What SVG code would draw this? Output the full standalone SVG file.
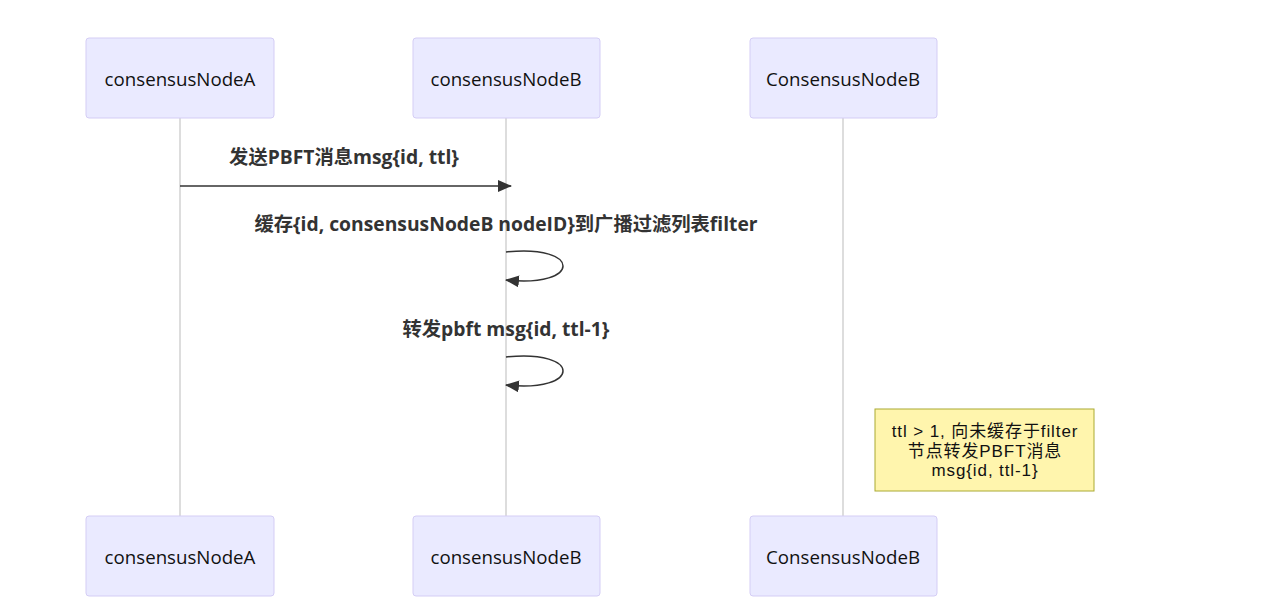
<svg xmlns="http://www.w3.org/2000/svg" width="1275" height="612" viewBox="0 0 1275 612">
<style>
.actor{fill:#eaeaff;stroke:#d4cdf5;stroke-width:1}
.atext{font-family:"Open Sans","Liberation Sans","Noto Sans CJK SC",sans-serif;font-size:18.7px;fill:#111;text-anchor:middle;dominant-baseline:central}
.life{stroke:#bbb;stroke-width:1}
.msg{font-family:"Open Sans","Liberation Sans","Noto Sans CJK SC",sans-serif;font-size:19.3px;font-weight:bold;fill:#333;text-anchor:middle}
.line{stroke:#333;stroke-width:1.5;fill:none}
.note{fill:#fff5ad;stroke:#aaaa33;stroke-width:1}
.ntext{font-family:"Liberation Sans","Noto Sans CJK SC",sans-serif;font-size:17px;letter-spacing:0.9px;fill:#111;text-anchor:middle}
</style>
<defs>
<marker id="arrow" viewBox="0 0 14 12" refX="13" refY="6" markerWidth="14" markerHeight="12" markerUnits="userSpaceOnUse" orient="auto">
<path d="M0,0 L14,6 L0,12 z" fill="#333"/>
</marker>
</defs>
<rect width="1275" height="612" fill="#fff"/>
<g id="lifelines">
<line class="life" x1="180" y1="118" x2="180" y2="516"/>
<line class="life" x1="506" y1="118" x2="506" y2="516"/>
<line class="life" x1="843" y1="118" x2="843" y2="516"/>
</g>
<g id="actorA-top"><rect class="actor" x="86" y="38" width="188" height="80" rx="3"/><text class="atext" x="180" y="78">consensusNodeA</text></g>
<g id="actorB-top"><rect class="actor" x="413" y="38" width="187" height="80" rx="3"/><text class="atext" x="506" y="78">consensusNodeB</text></g>
<g id="actorC-top"><rect class="actor" x="750" y="38" width="187" height="80" rx="3"/><text class="atext" x="843" y="78">ConsensusNodeB</text></g>
<g id="actorA-bottom"><rect class="actor" x="86" y="516" width="188" height="80" rx="3"/><text class="atext" x="180" y="556">consensusNodeA</text></g>
<g id="actorB-bottom"><rect class="actor" x="413" y="516" width="187" height="80" rx="3"/><text class="atext" x="506" y="556">consensusNodeB</text></g>
<g id="actorC-bottom"><rect class="actor" x="750" y="516" width="187" height="80" rx="3"/><text class="atext" x="843" y="556">ConsensusNodeB</text></g>
<g id="connectors">
<text class="msg" x="344" y="164">发送PBFT消息msg{id, ttl}</text>
<line class="line" x1="180" y1="186" x2="511" y2="186" marker-end="url(#arrow)"/>
<text class="msg" x="506" y="231">缓存{id, consensusNodeB nodeID}到广播过滤列表filter</text>
<path class="line" d="M506,252 C582,244 582,288 506,280" marker-end="url(#arrow)"/>
<text class="msg" x="506" y="336">转发pbft msg{id, ttl-1}</text>
<path class="line" d="M506,357 C582,349 582,393 506,385" marker-end="url(#arrow)"/>
</g>
<g id="note">
<rect class="note" x="875" y="409" width="219" height="82"/>
<text class="ntext" x="985" y="437">ttl &gt; 1, 向未缓存于filter</text>
<text class="ntext" x="985" y="456.5">节点转发PBFT消息</text>
<text class="ntext" x="985" y="476">msg{id, ttl-1}</text>
</g>
</svg>
